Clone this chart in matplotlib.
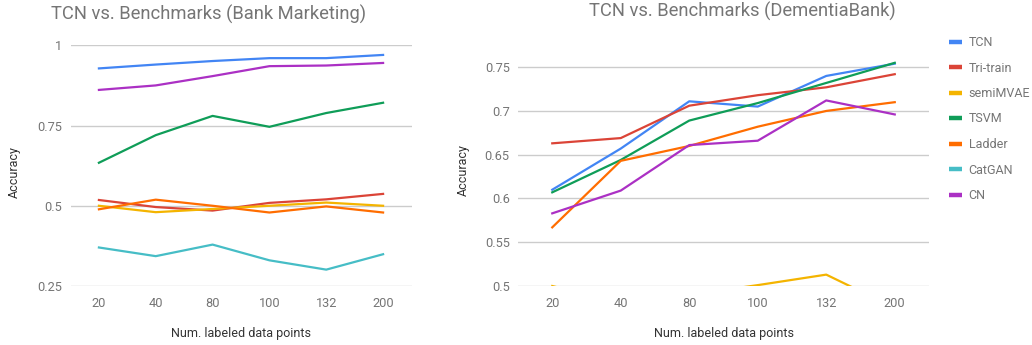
import matplotlib
matplotlib.use("Agg")
import matplotlib.pyplot as plt

plt.rcParams['font.family'] = ['Roboto', 'DejaVu Sans']

x_labels = ["20", "40", "80", "100", "132", "200"]
series_names = ["TCN", "Tri-train", "semiMVAE", "TSVM", "Ladder", "CatGAN", "CN"]
colors = ["#4285F4", "#DB4437", "#F4B400", "#0F9D58", "#FF6D00", "#46BDC6", "#AB30C4"]

# Bank Marketing
bank_tcn = [0.928, 0.940, 0.951, 0.960, 0.960, 0.970]
bank_tritrain = [0.518, 0.496, 0.485, 0.509, 0.520, 0.537]
bank_semimvae = [0.500, 0.480, 0.490, 0.500, 0.510, 0.500]
bank_tsvm = [0.634, 0.720, 0.780, 0.746, 0.789, 0.821]
bank_ladder = [0.489, 0.519, 0.500, 0.479, 0.498, 0.479]
bank_catgan = [0.370, 0.343, 0.379, 0.330, 0.301, 0.349]
bank_cn = [0.861, 0.875, 0.904, 0.935, 0.937, 0.945]

# DementiaBank
dem_tcn = [0.610, 0.657, 0.711, 0.705, 0.740, 0.754]
dem_tritrain = [0.663, 0.669, 0.706, 0.718, 0.727, 0.742]
dem_semimvae = [0.500, 0.480, 0.490, 0.501, 0.513, 0.475]
dem_tsvm = [0.607, 0.644, 0.689, 0.709, 0.732, 0.755]
dem_ladder = [0.567, 0.643, 0.660, 0.682, 0.700, 0.710]
dem_catgan = [0.450, 0.440, 0.460, 0.430, 0.420, 0.440]
dem_cn = [0.583, 0.609, 0.661, 0.666, 0.712, 0.696]

bank = [bank_tcn, bank_tritrain, bank_semimvae, bank_tsvm, bank_ladder, bank_catgan, bank_cn]
dem = [dem_tcn, dem_tritrain, dem_semimvae, dem_tsvm, dem_ladder, dem_catgan, dem_cn]

W, H = 1032, 345
fig = plt.figure(figsize=(W / 100, H / 100), dpi=100)

TEXT = "#757575"
LABEL = "#333333"
GRID = "#cccccc"


def setup(ax, yticks, ylim):
    ax.set_ylim(*ylim)
    ax.set_xlim(-0.5, len(x_labels) - 0.5)
    ax.set_xticks(range(len(x_labels)))
    ax.set_xticklabels(x_labels)
    ax.set_yticks(yticks)
    ax.set_yticklabels([("%g" % t) for t in yticks])
    for s in ax.spines.values():
        s.set_visible(False)
    ax.tick_params(length=0, colors=TEXT, labelsize=9.2)
    ax.tick_params(axis='x', pad=8)
    ax.tick_params(axis='y', pad=6)
    ax.grid(axis='y', color=GRID, linewidth=1)
    ax.set_axisbelow(True)


ax1 = fig.add_axes([70.5 / W, 1 - 286 / H, 341 / W, (286 - 45.3) / H])
setup(ax1, [0.25, 0.5, 0.75, 1.0], (0.25, 1.0))
for vals, c in zip(bank, colors):
    ax1.plot(range(len(x_labels)), vals, color=c, linewidth=1.6, solid_joinstyle='round')

ax2 = fig.add_axes([518 / W, 1 - 286 / H, 411 / W, (286 - 45.3) / H])
setup(ax2, [0.5, 0.55, 0.6, 0.65, 0.7, 0.75], (0.5, 0.775))
lines = []
for vals, c, n in zip(dem, colors, series_names):
    ln, = ax2.plot(range(len(x_labels)), vals, color=c, linewidth=1.6, label=n, solid_joinstyle='round')
    lines.append(ln)

fig.text(208.5 / W, 1 - 14 / H, "TCN vs. Benchmarks (Bank Marketing)", ha='center', va='center',
         fontsize=13.2, color=TEXT)
fig.text(742.5 / W, 1 - 11 / H, "TCN vs. Benchmarks (DementiaBank)", ha='center', va='center',
         fontsize=13.2, color=TEXT)
fig.text(241 / W, 1 - 333 / H, "Num. labeled data points", ha='center', va='center', fontsize=9, color=LABEL)
fig.text(724.5 / W, 1 - 333 / H, "Num. labeled data points", ha='center', va='center', fontsize=9, color=LABEL)
fig.text(14 / W, 1 - 172 / H, "Accuracy", ha='center', va='center', rotation=90, fontsize=9, color=LABEL)
fig.text(463 / W, 1 - 170 / H, "Accuracy", ha='center', va='center', rotation=90, fontsize=9, color=LABEL)

leg = fig.legend(handles=lines, loc='upper left', bbox_to_anchor=(948.5 / W, 1 - 36 / H), frameon=False,
                 fontsize=9, labelspacing=1.0, handlelength=1.05, handletextpad=0.55, borderaxespad=0,
                 borderpad=0)
for h in leg.legend_handles:
    h.set_linewidth(3.2)
    h.set_solid_capstyle('butt')
for t in leg.get_texts():
    t.set_color(TEXT)

fig.savefig("out.png", dpi=100)
